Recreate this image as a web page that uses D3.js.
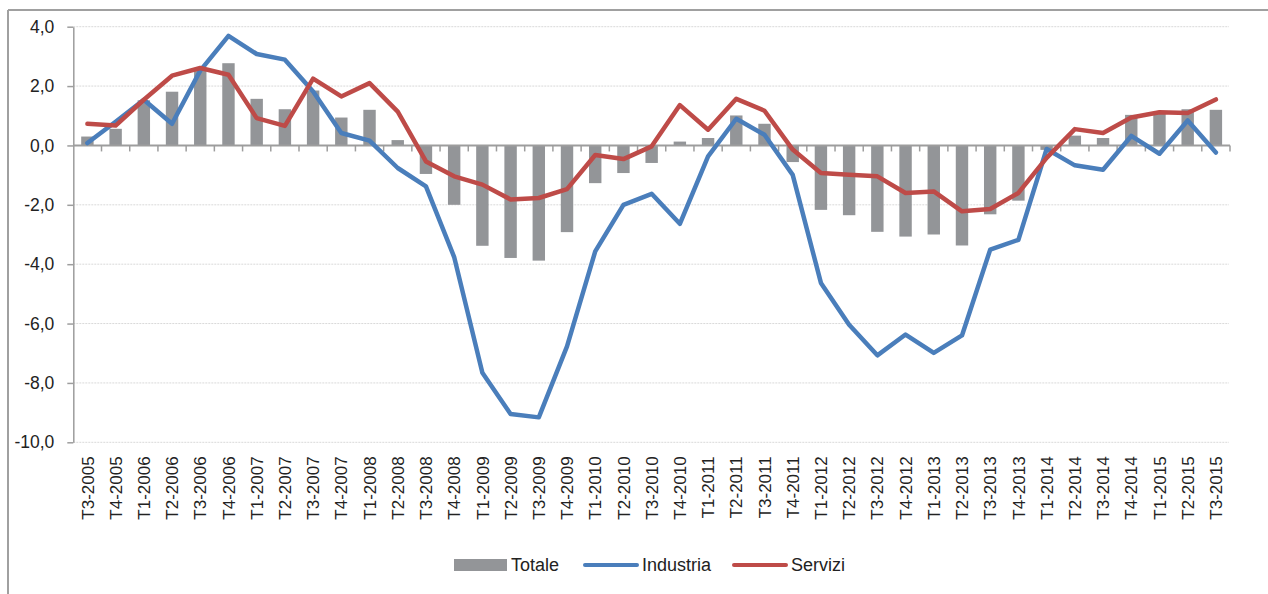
<!DOCTYPE html>
<html>
<head>
<meta charset="utf-8">
<script src="https://cdn.jsdelivr.net/npm/d3@7"></script>
<style>
  html, body { margin: 0; padding: 0; background: #fff; }
  svg { display: block; font-family: "Liberation Sans", Arial, sans-serif; }
</style>
</head>
<body>
<svg id="chart" width="1268" height="594"></svg>
<script>
// Quarterly periods
const categories = [
  "T3-2005","T4-2005","T1-2006","T2-2006","T3-2006","T4-2006","T1-2007","T2-2007",
  "T3-2007","T4-2007","T1-2008","T2-2008","T3-2008","T4-2008","T1-2009","T2-2009",
  "T3-2009","T4-2009","T1-2010","T2-2010","T3-2010","T4-2010","T1-2011","T2-2011",
  "T3-2011","T4-2011","T1-2012","T2-2012","T3-2012","T4-2012","T1-2013","T2-2013",
  "T3-2013","T4-2013","T1-2014","T2-2014","T3-2014","T4-2014","T1-2015","T2-2015",
  "T3-2015"
];

// Totale (bars)
const totale = [
  0.30, 0.56, 1.52, 1.81, 2.60, 2.77, 1.57, 1.22,
  1.85, 0.94, 1.20, 0.18, -0.96, -2.00, -3.38, -3.79,
  -3.88, -2.92, -1.27, -0.93, -0.59, 0.13, 0.25, 1.01,
  0.73, -0.56, -2.17, -2.35, -2.91, -3.07, -3.00, -3.37,
  -2.32, -1.86, -0.15, 0.33, 0.25, 1.03, 1.09, 1.22,
  1.20
];

// Industria (blue line)
const industria = [
  0.08, 0.80, 1.54, 0.73, 2.52, 3.69, 3.08, 2.89,
  1.82, 0.42, 0.16, -0.76, -1.38, -3.76, -7.66, -9.05,
  -9.16, -6.77, -3.57, -2.00, -1.63, -2.64, -0.37, 0.90,
  0.36, -0.99, -4.63, -6.04, -7.07, -6.37, -6.99, -6.40,
  -3.51, -3.18, -0.12, -0.67, -0.82, 0.32, -0.28, 0.84,
  -0.24
];

// Servizi (red line)
const servizi = [
  0.73, 0.67, 1.54, 2.35, 2.61, 2.38, 0.92, 0.66,
  2.25, 1.65, 2.10, 1.14, -0.54, -1.04, -1.32, -1.82,
  -1.77, -1.47, -0.32, -0.46, -0.03, 1.36, 0.53, 1.57,
  1.17, -0.14, -0.93, -0.99, -1.04, -1.60, -1.55, -2.22,
  -2.14, -1.60, -0.42, 0.55, 0.42, 0.94, 1.12, 1.09,
  1.55
];

const yTicks = [4, 2, 0, -2, -4, -6, -8, -10];
const seriesNames = ["Totale", "Industria", "Servizi"];

const COLORS = { bar: "#939598", blue: "#4a7ebb", red: "#be4b48", axis: "#9d9d9d", grid: "#d9d9d9", text: "#222" };

const svg = d3.select("#chart");

// Frame lines (top and left edge)
svg.append("line").attr("x1", 8).attr("x2", 1268).attr("y1", 10).attr("y2", 10)
  .attr("stroke", "#a0a0a0").attr("stroke-width", 2);
svg.append("line").attr("x1", 8).attr("x2", 8).attr("y1", 10).attr("y2", 594)
  .attr("stroke", "#a0a0a0").attr("stroke-width", 2);

const plot = { left: 73.3, right: 1230, top: 26.7, bottom: 442.3 };

const x = d3.scaleBand().domain(categories).range([plot.left, plot.right]).padding(0);
const y = d3.scaleLinear().domain([-10, 4]).range([plot.bottom, plot.top]);

// Dotted horizontal gridlines
svg.append("g").selectAll("line").data(yTicks.filter(d => d !== 0)).join("line")
  .attr("x1", plot.left).attr("x2", plot.right - 1)
  .attr("y1", d => y(d)).attr("y2", d => y(d))
  .attr("stroke", COLORS.grid).attr("stroke-width", 1).attr("stroke-dasharray", "2,1");

// Y axis
const yAxis = svg.append("g").attr("transform", `translate(${plot.left},0)`)
  .call(d3.axisLeft(y).tickValues(yTicks).tickSizeInner(6).tickSizeOuter(0).tickPadding(13)
    .tickFormat(d => d.toFixed(1).replace(".", ",")));
yAxis.select(".domain").attr("stroke", COLORS.axis).attr("stroke-width", 1.5);
yAxis.selectAll(".tick line").attr("stroke", COLORS.axis).attr("stroke-width", 1.5);
yAxis.selectAll(".tick text").attr("fill", COLORS.text).attr("font-size", 17.5)
  .attr("font-family", "Liberation Sans, Arial, sans-serif");

// Bars (Totale)
const barW = x.bandwidth() * 0.44;
svg.append("g").selectAll("rect").data(totale).join("rect")
  .attr("x", (d, i) => x(categories[i]) + x.bandwidth() / 2 - barW / 2)
  .attr("width", barW)
  .attr("y", d => y(Math.max(0, d)))
  .attr("height", d => Math.abs(y(d) - y(0)))
  .attr("fill", COLORS.bar);

// Zero line with category boundary ticks
const zeroAxis = svg.append("g").attr("transform", `translate(0,${y(0)})`);
zeroAxis.append("line").attr("x1", plot.left).attr("x2", plot.right)
  .attr("stroke", COLORS.axis).attr("stroke-width", 2);
const boundaries = categories.map(c => x(c)).concat([plot.right]).slice(1);
zeroAxis.selectAll("line.tk").data(boundaries).join("line").attr("class", "tk")
  .attr("x1", d => d).attr("x2", d => d).attr("y1", 0).attr("y2", 6)
  .attr("stroke", COLORS.axis).attr("stroke-width", 1.5);

// Category labels (rotated)
const xAxis = svg.append("g").attr("transform", `translate(0,${plot.bottom + 14})`)
  .call(d3.axisBottom(x).tickSize(0).tickPadding(0));
xAxis.select(".domain").remove();
xAxis.selectAll(".tick text")
  .attr("transform", "rotate(-90)")
  .attr("text-anchor", "end")
  .attr("x", 0).attr("y", 0).attr("dy", "0.36em")
  .attr("fill", COLORS.text).attr("font-size", 17)
  .attr("font-family", "Liberation Sans, Arial, sans-serif");

// Lines
const lineGen = d3.line()
  .x((d, i) => x(categories[i]) + x.bandwidth() / 2)
  .y(d => y(d));

svg.append("path").datum(industria).attr("d", lineGen)
  .attr("fill", "none").attr("stroke", COLORS.blue).attr("stroke-width", 4.5)
  .attr("stroke-linejoin", "round").attr("stroke-linecap", "round");
svg.append("path").datum(servizi).attr("d", lineGen)
  .attr("fill", "none").attr("stroke", COLORS.red).attr("stroke-width", 4.5)
  .attr("stroke-linejoin", "round").attr("stroke-linecap", "round");

// Legend
const legend = svg.append("g").attr("font-size", 18).attr("fill", COLORS.text);
const legendY = 565;
legend.append("rect").attr("x", 454).attr("y", legendY - 6).attr("width", 53).attr("height", 12)
  .attr("fill", COLORS.bar);
legend.append("text").attr("x", 511).attr("y", legendY).attr("dy", "0.36em").text(seriesNames[0]);
legend.append("line").attr("x1", 585).attr("x2", 637).attr("y1", legendY).attr("y2", legendY)
  .attr("stroke", COLORS.blue).attr("stroke-width", 4).attr("stroke-linecap", "round");
legend.append("text").attr("x", 642).attr("y", legendY).attr("dy", "0.36em").text(seriesNames[1]);
legend.append("line").attr("x1", 734).attr("x2", 786).attr("y1", legendY).attr("y2", legendY)
  .attr("stroke", COLORS.red).attr("stroke-width", 4).attr("stroke-linecap", "round");
legend.append("text").attr("x", 791).attr("y", legendY).attr("dy", "0.36em").text(seriesNames[2]);
</script>
</body>
</html>
